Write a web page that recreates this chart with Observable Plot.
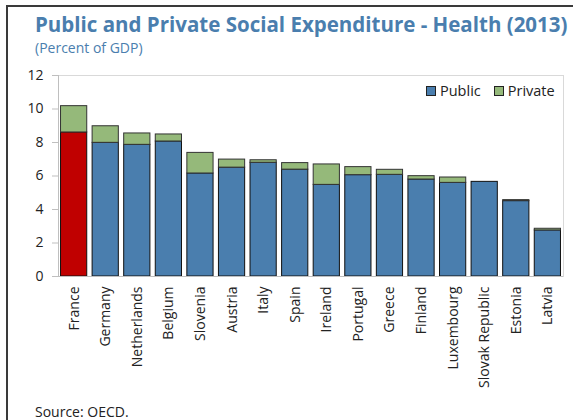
<!DOCTYPE html>
<html>
<head>
<meta charset="utf-8">
<script src="https://cdn.jsdelivr.net/npm/d3@7"></script>
<script src="https://cdn.jsdelivr.net/npm/@observablehq/plot@0.6"></script>
<style>
  html, body { margin: 0; padding: 0; background: #fff; }
  body { width: 573px; height: 420px; overflow: hidden; position: relative; font-family: "Open Sans", "Noto Sans", sans-serif; }
  .frame { position: absolute; left: 6px; top: 5px; width: 600px; height: 460px; border: 2px solid #3a3a3a; box-sizing: border-box; }
  .title { position: absolute; left: 35px; top: 10px; font-size: 20.5px; font-weight: 700; color: #4a7eae; white-space: nowrap; }
  .subtitle { position: absolute; left: 35px; top: 38px; font-size: 14px; color: #4a7eae; white-space: nowrap; }
  .source { position: absolute; left: 35px; top: 402px; font-size: 14px; color: #222; white-space: nowrap; }
  #chart { position: absolute; left: 0; top: 60px; }
  .legend { position: absolute; left: 426px; top: 81px; font-size: 14.5px; color: #222; display: flex; align-items: center; white-space: nowrap; }
  .legend .sw { display: inline-block; width: 8px; height: 8px; border: 1px solid #222; margin-right: 4px; }
  .legend .item { display: flex; align-items: center; margin-right: 13px; }
</style>
</head>
<body>
<div class="frame"></div>
<div class="title">Public and Private Social Expenditure - Health (2013)</div>
<div class="subtitle">(Percent of GDP)</div>
<div id="chart"></div>
<div class="legend" id="legend"></div>
<div class="source">Source: OECD.</div>
<script>
const countries = ["France","Germany","Netherlands","Belgium","Slovenia","Austria","Italy","Spain","Ireland","Portugal","Greece","Finland","Luxembourg","Slovak Republic","Estonia","Latvia"];
const publicVals = [8.60, 7.98, 7.86, 8.06, 6.15, 6.50, 6.79, 6.38, 5.47, 6.05, 6.07, 5.79, 5.59, 5.65, 4.50, 2.75];
const privateVals = [1.57, 0.99, 0.68, 0.42, 1.23, 0.48, 0.15, 0.39, 1.22, 0.48, 0.30, 0.20, 0.32, 0.00, 0.06, 0.10];
const seriesNames = ["Public", "Private"];
const yTicks = [0, 2, 4, 6, 8, 10, 12];
const highlight = "France";

const colors = { Public: "#4a7eae", Private: "#95b97a" };
const highlightColor = "#c00000";

const rows = [];
countries.forEach((c, i) => {
  rows.push({ country: c, type: "Public", value: publicVals[i] });
  rows.push({ country: c, type: "Private", value: privateVals[i] });
});

const mLeft = 58, mTop = 15, mBottom = 124, H = 340;

const chart = Plot.plot({
  width: 573,
  height: H,
  marginTop: mTop,
  marginLeft: mLeft,
  marginRight: 10,
  marginBottom: mBottom,
  style: { fontFamily: "'Open Sans', 'Noto Sans', sans-serif", fontSize: "14px", color: "#222", background: "transparent" },
  x: { domain: countries, paddingInner: 0.17, paddingOuter: 0.08, round: false, label: null },
  y: { domain: [0, 12], label: null },
  marks: [
    Plot.frame({ stroke: "#d9d9d9" }),
    Plot.barY(rows, Plot.stackY({
      x: "country",
      y: "value",
      order: seriesNames,
      z: "type",
      fill: d => (d.country === highlight && d.type === "Public") ? highlightColor : colors[d.type],
      stroke: d => d.type === "Private" ? "#333" : "#111",
      strokeWidth: 1,
      filter: d => d.value > 0
    })),
    Plot.ruleY([0], { stroke: "#bfbfbf" }),
    Plot.axisY({ ticks: yTicks, tickSize: 6, tickPadding: 9, stroke: "#bfbfbf", fill: "#222", fontSize: 14 }),
    Plot.axisX({ tickSize: 0, tickPadding: 10, tickRotate: -90, fill: "#222", fontSize: 14 })
  ]
});
document.getElementById("chart").appendChild(chart);

// left axis line (decoration along the plot's left edge)
d3.select(chart).append("line")
  .attr("x1", mLeft + 0.5).attr("x2", mLeft + 0.5)
  .attr("y1", mTop).attr("y2", H - mBottom)
  .attr("stroke", "#bfbfbf");

const legend = document.getElementById("legend");
seriesNames.forEach(name => {
  const item = document.createElement("span");
  item.className = "item";
  const sw = document.createElement("span");
  sw.className = "sw";
  sw.style.background = colors[name];
  item.appendChild(sw);
  item.appendChild(document.createTextNode(name));
  legend.appendChild(item);
});
</script>
</body>
</html>
